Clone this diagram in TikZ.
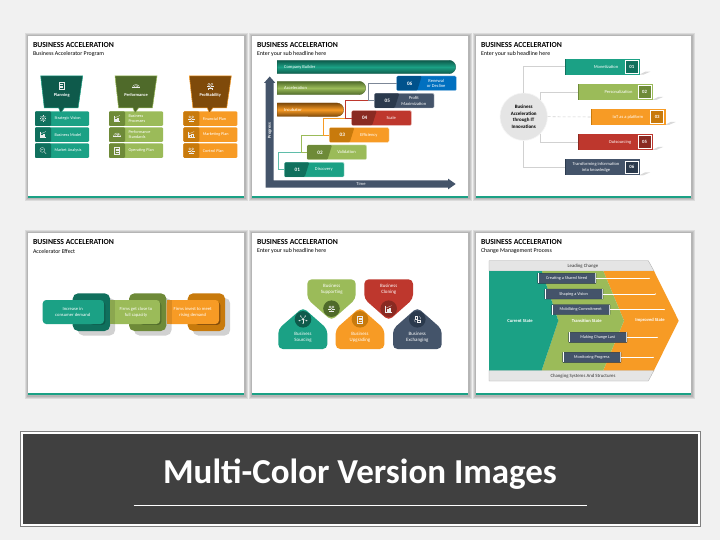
\documentclass[tikz,border=0pt]{standalone}
\usepackage{fontspec}
\setmainfont{Carlito}
\usetikzlibrary{arrows.meta,calc}
\definecolor{cteal}{HTML}{1BA185}\definecolor{dteal}{HTML}{10705D}
\definecolor{colive}{HTML}{9BBB59}\definecolor{dolive}{HTML}{6E8A38}
\definecolor{corange}{HTML}{F79B25}\definecolor{dorange}{HTML}{C87A0C}
\definecolor{cred}{HTML}{BE372D}\definecolor{dred}{HTML}{8A2A22}
\definecolor{cnavy}{HTML}{44546A}\definecolor{dnavy}{HTML}{2B3A4D}
\definecolor{cblue}{HTML}{0070C0}\definecolor{dblue}{HTML}{00528C}
\definecolor{fteal}{HTML}{0E5A4B}\definecolor{folive}{HTML}{4F6A2A}\definecolor{forange}{HTML}{7F4A0A}
\definecolor{lgrey}{HTML}{D9D9D9}
\tikzset{
  slab/.style={font=\fontsize{4.2}{5}\selectfont,text=white,inner sep=0pt,align=center},
  slabl/.style={slab,align=left,anchor=west},
  headlab/.style={font=\fontsize{4.4}{5.4}\bfseries\selectfont,text=white,inner sep=0pt,align=center},
  ttl/.style={font=\fontsize{7.7}{9}\bfseries\selectfont,text=black,inner sep=0pt,anchor=west},
  sbt/.style={font=\fontsize{5.9}{7}\selectfont,text=black,inner sep=0pt,anchor=west},
  blockbox/.style={inner sep=0pt,outer sep=0pt,anchor=north west,rounded corners=1.2pt},
  conn/.style={line width=.55pt},
  iconline/.style={line width=.28pt,fill=none},
  barlab/.style={font=\fontsize{4.5}{5.6}\selectfont,text=white,inner sep=0pt,align=center},
  numlab/.style={font=\fontsize{5.2}{6}\bfseries\selectfont,text=white,inner sep=0pt},
  pentlab/.style={slab,font=\fontsize{4.9}{6}\selectfont},
  platelab/.style={slab,font=\fontsize{4.6}{5.8}\selectfont},
  statelab/.style={barlab,font=\fontsize{4.6}{5.4}\bfseries\selectfont},
  bandlab/.style={font=\fontsize{4.8}{5.6}\selectfont,text=black!80,inner sep=0pt}
}
\colorlet{icw}{white!85!gray}
% generic rectangle node from corners
\newcommand\rectnode[6]{\pgfmathsetmacro\rw{(#5)-(#3)}\pgfmathsetmacro\rh{(#6)-(#4)}%
  \node[blockbox,minimum width=\rw pt,minimum height=\rh pt,#2] (#1) at (#3,#4) {};}
% slide frame
\newcommand\slideframe[6]{%
  \foreach \e in {3,2,1}{\fill[black,opacity=.09] (#1-\e,#2-\e) rectangle (#3+\e+.5,#4+\e+.5);}
  \fill[white] (#1,#2) rectangle (#3,#4);
  \fill[cteal] (#1,#4-1.6) rectangle (#3,#4);
  \node[ttl] (t#6) at (#1+4.8,#2+8.7) {BUSINESS ACCELERATION};
  \node[sbt] (s#6) at (#1+4.8,#2+18) {#5};}
% icons
\newcommand\icGear[3]{\begin{scope}[shift={(#1,#2)},iconline,draw=#3]\draw (0,0) circle (2.3);\draw (0,0) circle (1);\foreach \a in {0,45,...,315}{\draw (\a:2.3) -- (\a:3.4);}\end{scope}}
\newcommand\icDoc[3]{\begin{scope}[shift={(#1,#2)},iconline,draw=#3]\draw (-2.6,-3.4) rectangle (2.6,3.4);\draw (-1.5,-1.6)--(1.5,-1.6) (-1.5,0)--(1.5,0) (-1.5,1.6)--(1.5,1.6);\end{scope}}
\newcommand\icBars[3]{\begin{scope}[shift={(#1,#2)},iconline,draw=#3]\draw (-3.2,-3)--(-3.2,3)--(3.2,3);\draw (-1.8,3)--(-1.8,.8)--(-.5,.8)--(-.5,3) (.2,3)--(.2,-.8)--(1.5,-.8)--(1.5,3);\draw (-2.4,-.8)--(2.8,-3);\end{scope}}
\newcommand\icMag[3]{\begin{scope}[shift={(#1,#2)},iconline,draw=#3]\draw (-.7,-.7) circle (2.4);\draw (1,1)--(3.2,3.2);\draw (-2,-.2)--(-1,-1.2)--(.3,-.8);\end{scope}}
\newcommand\icGauge[3]{\begin{scope}[shift={(#1,#2)},iconline,draw=#3]\draw (-3.6,1.6) arc (180:360:3.6 and 3.2);\draw (-3.6,1.6)--(3.6,1.6);\draw (0,1.6)--(1.8,-.6);\draw (-2.2,1.6) arc (180:360:2.2 and 1.9);\end{scope}}
\newcommand\icPeople[3]{\begin{scope}[shift={(#1,#2)},iconline,draw=#3]\draw (-1.5,-1.7) circle (1.1) (1.5,-1.7) circle (1.1) (0,.7) circle (1.1);\draw (-3,1)--(-3,.2)--(-.5,.2) (.5,.2)--(3,.2)--(3,1) (-2,3.2)--(-2,2.6)--(2,2.6)--(2,3.2);\end{scope}}
\newcommand\icNet[3]{\begin{scope}[shift={(#1,#2)},iconline,draw=#3]\foreach \a in {20,90,160,235,305}{\draw (0,0)--(\a:3.6);\draw (\a:4) circle (.5);}\draw (0,0) circle (.8);\end{scope}}
\newcommand\icCycle[3]{\begin{scope}[shift={(#1,#2)},iconline,draw=#3]\draw (-2.6,-3) rectangle (.2,-.4);\draw (.2,.4) rectangle (3,3);\draw (1.8,-2.8) arc (-70:10:2.5);\draw (-1.6,2.8) arc (110:190:2.5);\end{scope}}
% first slide columns
\newcommand\funnel[6]{% name,x0,dark,border,icon-cmd,label
  \draw[fill=#3,draw=#4,line width=.5pt] (#2,76)--(#2+42,76)--(#2+37.4,108)--(#2+23.5,108)--(#2+20,113)--(#2+18,108)--(#2+3.6,108)--cycle;
  #5{#2+21}{86}{icw}
  \node[headlab] (#1lab) at (#2+21,95) {#6};}
\newcommand\rowitem[7]{% name,x,y,main,dark,text,icon
  \rectnode{#1}{fill=#4}{#2}{#3}{#2+54}{#3+14.7}
  \rectnode{#1d}{fill=#5}{#2}{#3}{#2+16}{#3+14.7}
  \node[slabl] (#1t) at (#2+19.3,#3+7.3) {#6};
  #7{#2+8}{#3+7.3}{icw}}
% second slide steps
\newcommand\stepbar[7]{% name,x,y,main,dark,num,label
  \rectnode{#1}{fill=#4,draw=#4!35!white,line width=.4pt}{#2}{#3}{#2+59.7}{#3+14.7}
  \fill[#5,rounded corners=1pt] (#2+.2,#3+.2)--(#2+25,#3+.2)--(#2+20.5,#3+14.5)--(#2+.2,#3+14.5)--cycle;
  \node[numlab] (#1n) at (#2+13,#3+7.4) {#6};
  \node[barlab] (#1t) at (#2+39.5,#3+7.4) {#7};}
% third slide bars
\newcommand\itbar[8]{% name,x,y,main,dark,num,label,labelx
  \fill[lgrey] (#2+74,#3+16)--(#2+80,#3+13)--(#2+85,#3+13)--(#2+78,#3+16)--cycle;
  \rectnode{#1}{fill=#4,rounded corners=0pt}{#2}{#3}{#2+75}{#3+16}
  \fill[#5] (#2,#3) rectangle (#2+.9,#3+16);
  \rectnode{#1b}{fill=#5,draw=white,line width=.5pt,rounded corners=0pt}{#2+60}{#3+1.6}{#2+73}{#3+14.4}
  \node[numlab,font=\fontsize{4.8}{5.5}\bfseries\selectfont] (#1n) at (#2+66.5,#3+8) {#6};
  \node[barlab] (#1t) at (#8,#3+8) {#7};}
% sixth slide boxes
\newcommand\chbox[5]{% name,x,y,label,arrowendx
  \rectnode{#1}{fill=cnavy,draw=dnavy,line width=.4pt,rounded corners=.4pt}{#2}{#3}{#2+58.3}{#3+10}
  \fill[white] (#2,#3) rectangle (#2+.9,#3+10);
  \fill[white!70!cnavy] (#2+57.4,#3) rectangle (#2+58.3,#3+10);
  \node[barlab,font=\fontsize{4.3}{5}\selectfont] (#1t) at (#2+29,#3+5) {#4};
  \coordinate (#1e) at (#5,#3+5);
  \draw[white,line width=.55pt,-{Stealth[length=1.2pt,width=1.2pt]}] (#1.east)--(#1e);}
\begin{document}
\begin{tikzpicture}[x=1pt,y=-1pt]
\useasboundingbox (0,0) rectangle (720,540);
\fill[white!94.5!black] (0,0) rectangle (720,540);
\slideframe{28}{36}{244}{198}{Business Accelerator Program}{a}
\slideframe{252}{36}{468}{198}{Enter your sub headline here}{b}
\slideframe{476}{36}{691}{198}{Enter your sub headline here}{c}
\slideframe{28}{233}{244}{395}{Accelerator Effect}{d}
\slideframe{252}{233}{468}{395}{Enter your sub headline here}{e}
\slideframe{476}{233}{691}{395}{Change Management Process}{f}
%%%%%% slide 1
\rowitem{ra}{35}{111.3}{cteal}{dteal}{Strategic Vision}{\icGear}
\rowitem{rb}{35}{127.3}{cteal}{dteal}{Business Model}{\icBars}
\rowitem{rc}{35}{143.3}{cteal}{dteal}{Market Analysis}{\icMag}
\rowitem{rd}{109}{111.3}{colive}{dolive}{Business\\Processes}{\icBars}
\rowitem{re}{109}{127.3}{colive}{dolive}{Performance\\Standards}{\icGauge}
\rowitem{rf}{109}{143.3}{colive}{dolive}{Operating Plan}{\icDoc}
\rowitem{rg}{183.3}{111.3}{corange}{dorange}{Financial Plan}{\icPeople}
\rowitem{rh}{183.3}{127.3}{corange}{dorange}{Marketing Plan}{\icBars}
\rowitem{ri}{183.3}{143.3}{corange}{dorange}{Control Plan}{\icPeople}
\funnel{fa}{40.7}{fteal}{cteal}{\icDoc}{Planning}
\funnel{fb}{115}{folive}{colive}{\icGauge}{Performance}
\funnel{fc}{189.3}{forange}{corange}{\icPeople}{Profitability}
%%%%%% slide 2
\draw[draw=fteal,top color=fteal,bottom color=fteal,middle color=cteal,line width=.3pt] (277.3,60.3)--(449,60.3) arc (90:-90:6.7 and -6.7)--(277.3,73.7)--cycle;
\draw[draw=folive,top color=folive,bottom color=folive,middle color=colive,line width=.3pt] (277.3,81.3)--(359,81.3) arc (90:-90:6.7 and -6.7)--(277.3,94.7)--cycle;
\draw[draw=forange,top color=forange,bottom color=forange,middle color=corange,line width=.3pt] (277.3,103)--(337,103) arc (90:-90:6.7 and -6.7)--(277.3,116.3)--cycle;
\node[barlab,anchor=west] (tb1) at (284,67) {Company Builder};
\node[barlab,anchor=west] (tb2) at (284,88) {Acceleration};
\node[barlab,anchor=west] (tb3) at (284,109.5) {Incubator};
% axes
\fill[cnavy] (265.7,83)--(264,83)--(269.7,76.5)--(275.4,83)--(273.7,83)--(273.7,180.3)--(448,180.3)--(448,178.6)--(455.7,184)--(448,189.4)--(448,187.7)--(265.7,187.7)--cycle;
\node[barlab,rotate=90,font=\fontsize{4.4}{5}\bfseries\selectfont] (pg) at (269.7,131) {Progress};
\node[barlab] (tm) at (361,184) {Time};
% steps
\stepbar{sa}{284.3}{162.3}{cteal}{dteal}{01}{Discovery}
\stepbar{sb}{307}{145}{colive}{dolive}{02}{Validation}
\stepbar{sc}{329.3}{127.7}{corange}{dorange}{03}{Efficiency}
\stepbar{sd}{351.7}{110.7}{cred}{dred}{04}{Scale}
\stepbar{se}{374.3}{93.3}{cnavy}{dnavy}{05}{Profit\\Maximization}
\stepbar{sf}{396.7}{76}{cblue}{dblue}{06}{Renewal\\or Decline}
\draw[conn,draw=cteal!70!white] (sa.west)--++(-6,0)|-(sb.west);
\draw[conn,draw=colive] (sb.west)--++(-6,0)|-(sc.west);
\draw[conn,draw=corange] (sc.west)--++(-6,0)|-(sd.west);
\draw[conn,draw=cred] (sd.west)--++(-6,0)|-(se.west);
\draw[conn,draw=cnavy!70!white] (se.west)--++(-6,0)|-(sf.west);
%%%%%% slide 3
\tikzset{hubline/.style={line width=.55pt,draw=black!18}}
\itbar{ba}{565.3}{58.7}{cteal}{dteal}{01}{Monetization}{606}
\itbar{bb}{578}{84}{colive}{dolive}{02}{Personalization}{618.5}
\itbar{bc}{590.7}{109}{corange}{dorange}{03}{IoT as a platform}{628}
\itbar{bd}{578}{134}{cred}{dred}{05}{Outsourcing}{620}
\itbar{be}{565.3}{159.3}{cnavy}{dnavy}{06}{Transforming information\\into knowledge}{596}
\node[circle,minimum size=47.4pt,inner sep=0pt,fill=black!10,draw=black!4,line width=.6pt,font=\fontsize{5}{6.7}\bfseries\selectfont,align=center,text=black] (hub) at (523.7,116.7) {Business\\Acceleration\\through IT\\Innovations};
\draw[hubline] (hub.north)|-(ba.west);
\draw[hubline] (hub.45)|-(bb.west);
\draw[hubline,densely dashed] (hub.east)--(bc.west);
\draw[hubline] (hub.-45)|-(bd.west);
\draw[hubline] (hub.south)|-(be.west);
%%%%%% slide 4
\tikzset{plate/.style={blockbox,rounded corners=5.5pt}}
\foreach \x/\n/\c in {72.7/pa/dteal,129/pb/dolive,187.7/pc/dorange}{
  \fill[black!18,rounded corners=5.5pt] (\x+5,298)rectangle(\x+42.5,335.5);
  \rectnode{\n}{plate,fill=\c}{\x}{293.3}{\x+37.4}{331}
}
\fill[fteal,rounded corners=3pt] (90,302) rectangle (105.3,324.8);
\fill[folive,rounded corners=3pt] (140,302) rectangle (161.3,324.8);
\fill[forange,rounded corners=3pt] (195,302) rectangle (220.3,324.8);
\rectnode{qa}{rounded corners=3.5pt,fill=cteal}{42.7}{300}{104}{324}
\rectnode{qb}{rounded corners=3.5pt,fill=colive}{110}{300}{160}{324}
\rectnode{qc}{rounded corners=3.5pt,fill=corange}{166.7}{300}{219}{324}
\fill[colive] (110,300) rectangle (116,324);
\fill[corange] (166.7,300) rectangle (174,324);
\fill[black,opacity=.1] (110,300) rectangle (115,324);
\fill[black,opacity=.1] (166.7,300) rectangle (171.7,324);
\node[platelab] (qat) at (72.7,312) {Increase in\\consumer demand};
\node[platelab] (qbt) at (136,312) {Firms get close to\\full capacity};
\node[platelab] (qct) at (192.7,312) {Firms invest to meet\\rising demand};
%%%%%% slide 5
\fill[colive,rounded corners=4.5pt] (307.3,279.3)--(355.7,279.3)--(355.7,299)--(331.5,320.5)--(307.3,299)--cycle;
\fill[cred,rounded corners=4.5pt] (364.3,279.3)--(413,279.3)--(413,299)--(388.7,320.5)--(364.3,299)--cycle;
\fill[cteal,rounded corners=4.5pt] (278.3,349)--(327.3,349)--(327.3,329)--(303,307.5)--(278.3,329)--cycle;
\fill[corange,rounded corners=4.5pt] (335.7,349)--(384.3,349)--(384.3,329)--(360,307.5)--(335.7,329)--cycle;
\fill[cnavy,rounded corners=4.5pt] (393,349)--(441.7,349)--(441.7,329)--(417.3,307.5)--(393,329)--cycle;
\tikzset{disc/.style={circle,minimum size=16.6pt,inner sep=0pt}}
\node[disc,fill=folive] (ib) at (331.5,308.7) {};
\node[disc,fill=dred] (ic) at (388.7,308.7) {};
\node[disc,fill=fteal] (ia) at (303,319.3) {};
\node[disc,fill=dorange] (id) at (360,319.3) {};
\node[disc,fill=dnavy] (ie) at (417.3,319.3) {};
\icPeople{331.5}{308.7}{icw}
\icBars{388.7}{308.7}{icw}
\icNet{303}{319.3}{icw}
\icDoc{360}{319.3}{icw}
\icCycle{417.3}{319.3}{icw}
\node[pentlab] (lb) at (331.7,289) {Business\\Supporting};
\node[pentlab] (lc) at (388.7,289) {Business\\Cloning};
\node[pentlab] (la) at (303,337) {Business\\Sourcing};
\node[pentlab] (ld) at (360,337) {Business\\Upgrading};
\node[pentlab] (le) at (417.3,337) {Business\\Exchanging};
%%%%%% slide 6
\fill[black!10,draw=black!35,line width=.3pt] (489,260.7)--(648.3,260.7)--(654,271)--(489,271)--cycle;
\fill[black!10,draw=black!35,line width=.3pt] (489,370.3)--(654,370.3)--(648.3,381)--(489,381)--cycle;
\fill[corange] (603.3,271)--(654,271)--(678.7,320.7)--(654,370.3)--(603.3,370.3)--(624,320.7)--cycle;
\fill[colive] (541.7,271)--(603.3,271)--(624,320.7)--(603.3,370.3)--(541.7,370.3)--(558.3,320.7)--cycle;
\fill[cteal] (489,271)--(541.7,271)--(558.3,320.7)--(541.7,370.3)--(489,370.3)--cycle;
\node[bandlab] (lead) at (583,266) {Leading Change};
\node[bandlab] (chg) at (583,376) {Changing Systems And Structures};
\node[statelab] (st1) at (520,320.7) {Current State};
\node[statelab] (st2) at (586.7,320.7) {Transition State};
\node[statelab] (st3) at (650,320.7) {Improved State};
\chbox{ca}{537.7}{273.3}{Creating a Shared Need}{650}
\chbox{cb}{544.7}{289}{Shaping a Vision}{656}
\chbox{cc}{551.7}{304.7}{Mobilizing Commitment}{665}
\chbox{cd}{568.7}{332.3}{Making Change Last}{658}
\chbox{ce}{562.7}{352.3}{Monitoring Progress}{654}
%%%%%% banner
\fill[black!50] (20,430.7) rectangle (701,526.5);
\fill[white] (21,431.7) rectangle (700,525.5);
\fill[black!75] (23,433.5) rectangle (698,523.5);
\node[font=\fontsize{35}{40}\bfseries\selectfont,text=white,inner sep=0pt] (bannertitle) at (360,474) {Multi-Color Version Images};
\draw[white,line width=.6pt] (133.6,505.3)--(586.8,505.3);
\end{tikzpicture}
\end{document}
